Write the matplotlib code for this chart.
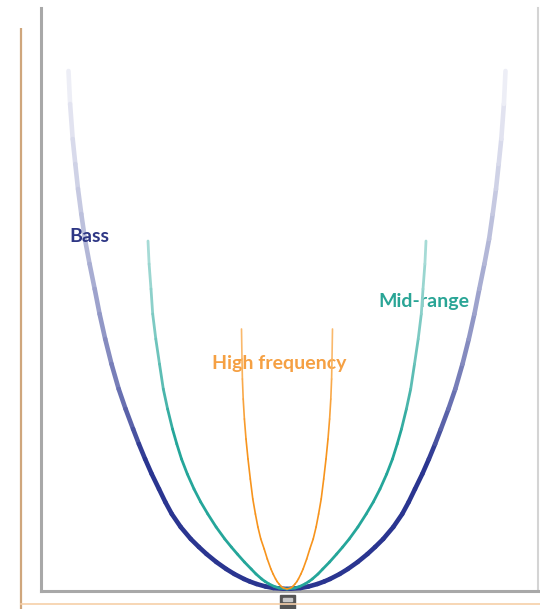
import numpy as np
import matplotlib
matplotlib.use("Agg")
import matplotlib.pyplot as plt
from matplotlib.collections import LineCollection
from matplotlib.colors import to_rgb
from matplotlib.patches import Rectangle

# ---- data (height above vertex, half-width) ----
bass_h = [0, 1, 2.5, 5, 7.5, 10, 15, 20, 27, 35, 42, 50, 62, 75, 87, 100, 115, 130,
          145, 160, 180, 200, 225, 250, 275, 300, 325, 350, 375, 400, 425, 450, 485, 518]
bass_w = [0, 13.6, 21.5, 30.4, 37.2, 43, 52.7, 60.8, 70.7, 80.5, 88.1, 96.2, 106.3,
          115.2, 121.7, 128, 135.3, 141.9, 148.1, 153.9, 161.4, 168.3, 175.5, 181.8,
          187.4, 192.3, 197.4, 202.1, 205.7, 209, 211.7, 214.3, 216.9, 218.5]

mid_h = [0, 1, 2.5, 5, 7.5, 10, 15, 20, 27, 35, 42, 50, 62, 75, 87, 100, 115, 130,
         145, 160, 180, 200, 225, 250, 275, 300, 325, 348]
mid_w = [0, 8, 12.6, 17.9, 21.9, 25.3, 31, 35.8, 42.6, 49.7, 55.7, 62.2, 70.9, 79.2,
         86.3, 93, 99.7, 105.5, 110.2, 114.5, 119.4, 123.7, 127.5, 131.2, 134.3, 136,
         137.9, 139]

high_h = [0, 1, 2.5, 5, 7.5, 10, 15, 20, 30, 40, 50, 62, 75, 90, 110, 130, 150, 170,
          190, 210, 230, 260]
high_w = [0, 3.6, 5.7, 8.0, 9.9, 11.4, 13.9, 16.1, 19.7, 22.8, 26.2, 29.1, 31.6, 34.2,
          36.7, 39, 41, 42.6, 43.8, 44.6, 45, 45.5]

labels = ["Bass", "Mid-range", "High frequency"]
colors = ["#2a3590", "#25a69a", "#f7941d"]

fig = plt.figure(figsize=(5.4, 6.09), dpi=100)

# decorative background layer in pixel units
bg = fig.add_axes([0, 0, 1, 1])
bg.set_xlim(0, 540)
bg.set_ylim(609, 0)
bg.axis("off")
bg.plot([21, 21], [28, 609], color="#cfa67c", lw=1.6, solid_capstyle="butt")
bg.plot([21, 540], [604, 604], color="#f6cfa8", lw=1.2)
bg.add_patch(Rectangle((280, 595), 15, 14, color="#555555"))
bg.add_patch(Rectangle((283, 597.5), 9, 3, color="#c8c8c8"))

ax = fig.add_axes([41 / 540, (609 - 591) / 609, (538 - 41) / 540, (591 - 8) / 609])
ax.set_xlim(-246, 251)
ax.set_ylim(-2, 581)
ax.set_xticks([])
ax.set_yticks([])
ax.patch.set_alpha(0)
ax.spines["top"].set_visible(False)
for s in ["left", "bottom"]:
    ax.spines[s].set_color("#a8a8a8")
    ax.spines[s].set_linewidth(2.2)
ax.spines["right"].set_color("#d4d4d4")
ax.spines["right"].set_linewidth(1.5)


def grad_curve(h, w, color, lw, fade_start, fade_end, max_fade, power, z):
    h = np.asarray(h, float)
    w = np.asarray(w, float)
    xs = np.concatenate([-w[::-1], w[1:]])
    ys = np.concatenate([h[::-1], h[1:]])
    pts = np.column_stack([xs, ys])
    segs = np.stack([pts[:-1], pts[1:]], axis=1)
    mid = (ys[:-1] + ys[1:]) / 2
    t = np.clip((mid - fade_start) / (fade_end - fade_start), 0, 1)
    f = max_fade * t ** power
    base = np.array(to_rgb(color))
    cols = base[None, :] * (1 - f[:, None]) + f[:, None]
    lc = LineCollection(segs, colors=cols, linewidths=lw, capstyle="round",
                        joinstyle="round", zorder=z)
    ax.add_collection(lc)


grad_curve(bass_h, bass_w, colors[0], 3.3, 135, 518, 0.94, 0.6, 3)
grad_curve(mid_h, mid_w, colors[1], 2.0, 160, 348, 0.62, 0.7, 4)
grad_curve(high_h, high_w, colors[2], 1.2, 140, 260, 0.4, 1.0, 5)

fam = ["Lato", "DejaVu Sans"]
ax.text(69 - 41 - 246, 591 - 236 - 2, labels[0], color="#2e3785", fontsize=14,
        fontweight="bold", family=fam, va="center", ha="left")
ax.text(378 - 41 - 246, 591 - 302 - 2, labels[1], color="#2aa596", fontsize=14,
        fontweight="bold", family=fam, va="center", ha="left")
ax.text(212 - 41 - 246, 591 - 363 - 2, labels[2], color="#f5a043", fontsize=14,
        fontweight="bold", family=fam, va="center", ha="left")

fig.savefig("out.png", dpi=100, facecolor="white")
